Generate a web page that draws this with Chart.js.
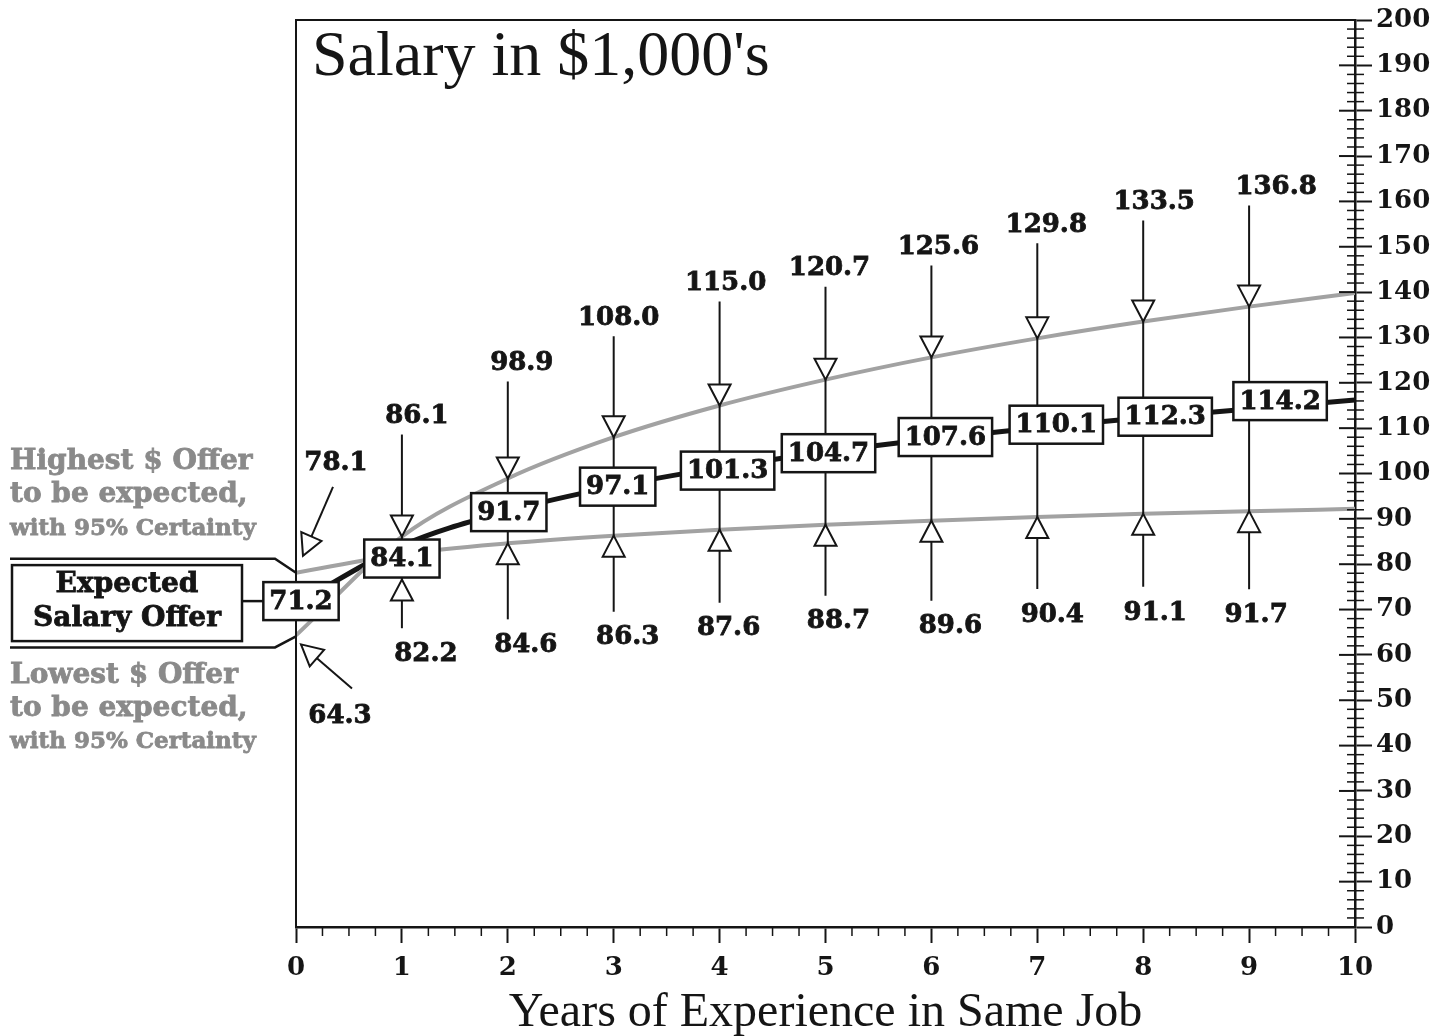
<!DOCTYPE html>
<html>
<head>
<meta charset="utf-8">
<script src="https://cdn.jsdelivr.net/npm/chart.js@4.4.0/dist/chart.umd.min.js"></script>
<style>
  body { margin: 0; background: #fff; }
  canvas { display: block; }
</style>
</head>
<body>
<canvas id="grafico-salario" width="1447" height="1036"></canvas>
<script>
// Anos de experiência no mesmo cargo
const years = [0, 1, 2, 3, 4, 5, 6, 7, 8, 9, 10];
// Salário (em $1.000) - oferta esperada e limites de 95%
const expected = [71.2, 84.1, 91.7, 97.1, 101.3, 104.7, 107.6, 110.1, 112.3, 114.2, 116.2];
const highest = [78.1, 86.1, 98.9, 108.0, 115.0, 120.7, 125.6, 129.8, 133.5, 136.8, 139.8];
const lowest = [64.3, 82.2, 84.6, 86.3, 87.6, 88.7, 89.6, 90.4, 91.1, 91.7, 92.2];
// só os anos 0..9 levam rótulo
const labeledYears = 10;

// no original as duas curvas cinzas se cruzam logo depois do ano 0
const steepCurve = [lowest[0], ...highest.slice(1)];
const flatCurve = [highest[0], ...lowest.slice(1)];

// deslocamentos (px) dos rótulos em relação ao ponto, como no original
const placement = {
  hiLabel: [[40, -110], [15, -120], [14, -115], [5, -119], [6, -122], [4, -111], [7, -110], [9, -113], [11, -119], [27, -119]],
  loLabel: [[44, 81], [24, 100], [18, 102], [14, 102], [9, 99], [13, 97], [19, 106], [15, 98], [12, 99], [7, 104]],
  box: [[5, -3], [0, 0], [1, 1], [4, 0], [8, 3], [3, 1], [14, -2], [19, -3], [22, -1], [31, -8]],
};

const BLACK = "#151515";
const GRAY_LINE = "#a2a2a2";
const GRAY_TEXT = "#8a8a8a";
const NUM_SIZE = 26;
const bold = (size) => `bold ${size}px "DejaVu Serif"`;

function pts(values) {
  return years.map((x, i) => ({ x: x, y: values[i] }));
}

function line(ctx, x1, y1, x2, y2) {
  ctx.beginPath();
  ctx.moveTo(x1, y1);
  ctx.lineTo(x2, y2);
  ctx.stroke();
}

// texto um pouco mais "pesado", como a fonte do original
function heavyText(ctx, text, x, y, color) {
  ctx.fillStyle = color;
  ctx.strokeStyle = color;
  ctx.lineWidth = 0.8;
  ctx.fillText(text, x, y);
  ctx.strokeText(text, x, y);
}

// triângulo aberto com a ponta em (tx, ty), apontando na direção (dx, dy)
function triangle(ctx, tx, ty, dx, dy) {
  const len = Math.hypot(dx, dy);
  dx /= len; dy /= len;
  const h = 21, w = 11;
  const bx = tx - dx * h, by = ty - dy * h;
  ctx.strokeStyle = BLACK;
  ctx.lineWidth = 2;
  ctx.beginPath();
  ctx.moveTo(tx, ty);
  ctx.lineTo(bx - dy * w, by + dx * w);
  ctx.lineTo(bx + dy * w, by - dx * w);
  ctx.closePath();
  ctx.fillStyle = "#fff";
  ctx.fill();
  ctx.stroke();
}

const BOX_H = 38;

function boxLabel(ctx, text, cx, cy) {
  ctx.font = bold(NUM_SIZE);
  const w = ctx.measureText(text).width + 12;
  ctx.fillStyle = "#fff";
  ctx.fillRect(cx - w / 2, cy - BOX_H / 2, w, BOX_H);
  ctx.lineWidth = 2.5;
  ctx.strokeStyle = BLACK;
  ctx.strokeRect(cx - w / 2, cy - BOX_H / 2, w, BOX_H);
  ctx.textAlign = "center";
  ctx.textBaseline = "middle";
  heavyText(ctx, text, cx, cy + 1, BLACK);
  return w;
}

const anotacoes = {
  id: "anotacoes",
  afterDatasetsDraw(chart) {
    const { ctx, chartArea: a, scales: { x, y } } = chart;
    ctx.save();
    ctx.strokeStyle = BLACK;
    ctx.lineCap = "butt";

    // moldura superior e esquerda
    ctx.lineWidth = 2;
    ctx.beginPath();
    ctx.moveTo(a.left, a.bottom);
    ctx.lineTo(a.left, a.top);
    ctx.lineTo(a.right + 1, a.top);
    ctx.stroke();

    // marcas do eixo y (parte interna das maiores e as menores)
    for (let v = 0; v <= 200; v += 2) {
      const py = y.getPixelForValue(v);
      if (v % 10 === 0) {
        ctx.lineWidth = 2;
        line(ctx, a.right - 16, py, a.right, py);
      } else {
        ctx.lineWidth = 1.5;
        line(ctx, a.right - 8, py, a.right + 9, py);
      }
    }
    // marcas menores do eixo x
    ctx.lineWidth = 1.5;
    for (let v = 0; v < 10; v += 0.25) {
      if (v % 1 === 0) continue;
      const px = x.getPixelForValue(v);
      line(ctx, px, a.bottom, px, a.bottom + 9);
    }

    ctx.textAlign = "center";
    ctx.textBaseline = "middle";

    // posição das caixas (a do ano 1 desce para não cobrir a seta de cima)
    const boxes = [];
    for (let i = 0; i < labeledYears; i++) {
      const [dx, dy] = placement.box[i];
      const yHi = y.getPixelForValue(highest[i]);
      let cy = y.getPixelForValue(expected[i]) + dy;
      if (i > 0) cy = Math.max(cy, yHi + 3 + BOX_H / 2);
      boxes.push({ cx: x.getPixelForValue(years[i]) + dx, cy: cy });
    }

    // setas verticais, anos 1..9
    for (let i = 1; i < labeledYears; i++) {
      const px = x.getPixelForValue(years[i]);
      const yHi = y.getPixelForValue(highest[i]);
      const yLo = y.getPixelForValue(lowest[i]);
      const [hx, hy] = placement.hiLabel[i];
      const [lx, ly] = placement.loLabel[i];
      const tipLo = Math.max(yLo, boxes[i].cy + BOX_H / 2 + 2);
      ctx.strokeStyle = BLACK;
      ctx.lineWidth = 2;
      line(ctx, px, yHi + hy + 18, px, yLo + ly - 26);
      triangle(ctx, px, yHi, 0, 1);
      triangle(ctx, px, tipLo, 0, -1);
      ctx.font = bold(NUM_SIZE);
      heavyText(ctx, highest[i].toFixed(1), px + hx, yHi + hy, BLACK);
      heavyText(ctx, lowest[i].toFixed(1), px + lx, yLo + ly, BLACK);
    }

    // setas diagonais no ano 0
    const x0 = x.getPixelForValue(years[0]);
    const hi0 = y.getPixelForValue(highest[0]);
    const lo0 = y.getPixelForValue(lowest[0]);
    ctx.strokeStyle = BLACK;
    ctx.lineWidth = 2;
    line(ctx, x0 + 37, hi0 - 86, x0 + 7, hi0 - 17);
    triangle(ctx, x0 + 7, hi0 - 17, -30, 69);
    ctx.lineWidth = 2;
    line(ctx, x0 + 56, lo0 + 53, x0 + 5, lo0 + 9);
    triangle(ctx, x0 + 5, lo0 + 9, -51, -44);
    ctx.font = bold(NUM_SIZE);
    heavyText(ctx, highest[0].toFixed(1), x0 + placement.hiLabel[0][0], hi0 + placement.hiLabel[0][1], BLACK);
    heavyText(ctx, lowest[0].toFixed(1), x0 + placement.loLabel[0][0], lo0 + placement.loLabel[0][1], BLACK);

    // caixas com o valor esperado
    let firstBoxW = 0;
    for (let i = 0; i < labeledYears; i++) {
      const w = boxLabel(ctx, expected[i].toFixed(1), boxes[i].cx, boxes[i].cy);
      if (i === 0) firstBoxW = w;
    }

    // legendas à esquerda
    const ex = boxes[0].cy;
    ctx.strokeStyle = BLACK;
    ctx.lineWidth = 2.5;
    ctx.fillStyle = "#fff";
    ctx.fillRect(12, ex - 36, 230, 76);
    ctx.strokeRect(12, ex - 36, 230, 76);
    ctx.lineWidth = 2.5;
    line(ctx, 242, ex, boxes[0].cx - firstBoxW / 2, ex);
    ctx.textAlign = "center";
    ctx.font = bold(28);
    heavyText(ctx, "Expected", 127, ex - 16, BLACK);
    heavyText(ctx, "Salary Offer", 127, ex + 18, BLACK);

    // conectores até o início das curvas
    ctx.strokeStyle = BLACK;
    ctx.lineWidth = 2.5;
    ctx.beginPath();
    ctx.moveTo(10, hi0 - 14);
    ctx.lineTo(a.left - 21, hi0 - 14);
    ctx.lineTo(a.left, hi0);
    ctx.stroke();
    ctx.beginPath();
    ctx.moveTo(10, lo0 + 12);
    ctx.lineTo(a.left - 21, lo0 + 12);
    ctx.lineTo(a.left, lo0 + 1);
    ctx.stroke();

    ctx.textAlign = "left";
    ctx.font = bold(28);
    heavyText(ctx, "Highest $ Offer", 10, hi0 - 111, GRAY_TEXT);
    heavyText(ctx, "to be expected,", 10, hi0 - 78, GRAY_TEXT);
    heavyText(ctx, "Lowest $ Offer", 10, lo0 + 40, GRAY_TEXT);
    heavyText(ctx, "to be expected,", 10, lo0 + 73, GRAY_TEXT);
    ctx.font = bold(23);
    heavyText(ctx, "with 95% Certainty", 10, hi0 - 44, GRAY_TEXT);
    heavyText(ctx, "with 95% Certainty", 10, lo0 + 107, GRAY_TEXT);

    // rótulo da unidade
    ctx.fillStyle = BLACK;
    ctx.font = '64px "Liberation Serif"';
    ctx.textBaseline = "alphabetic";
    ctx.fillText("Salary in $1,000's", a.left + 16, a.top + 55);

    ctx.restore();
  },
};

const tickFont = { family: "DejaVu Serif", weight: "bold", size: NUM_SIZE };

const config = {
  type: "line",
  data: {
    datasets: [
      {
        label: "Highest $ Offer",
        data: pts(steepCurve),
        borderColor: GRAY_LINE,
        borderWidth: 4,
        pointRadius: 0,
        cubicInterpolationMode: "monotone",
      },
      {
        label: "Lowest $ Offer",
        data: pts(flatCurve),
        borderColor: GRAY_LINE,
        borderWidth: 4,
        pointRadius: 0,
        cubicInterpolationMode: "monotone",
      },
      {
        label: "Expected Salary Offer",
        data: pts(expected),
        borderColor: BLACK,
        borderWidth: 5,
        pointRadius: 0,
        cubicInterpolationMode: "monotone",
      },
    ],
  },
  options: {
    responsive: false,
    animation: false,
    devicePixelRatio: 1,
    layout: { padding: { left: 296, top: 20, right: 0, bottom: 0 } },
    plugins: { legend: { display: false }, tooltip: { enabled: false } },
    scales: {
      x: {
        type: "linear",
        min: 0,
        max: 10,
        afterFit: (s) => { s.height = 109; },
        ticks: { stepSize: 1, font: tickFont, color: BLACK, padding: 10, maxRotation: 0 },
        grid: { drawOnChartArea: false, tickLength: 16, tickWidth: 2, tickColor: BLACK },
        border: { color: BLACK, width: 2.5 },
        title: {
          display: true,
          text: "Years of Experience in Same Job",
          font: { family: "Liberation Serif", size: 48 },
          color: BLACK,
          padding: { top: 0, bottom: -6 },
        },
      },
      y: {
        position: "right",
        min: 0,
        max: 200,
        afterFit: (s) => { s.width = 92; },
        ticks: { stepSize: 10, font: tickFont, color: BLACK, padding: 4 },
        grid: { drawOnChartArea: false, tickLength: 17, tickWidth: 2, tickColor: BLACK },
        border: { color: BLACK, width: 2.5 },
      },
    },
  },
  plugins: [anotacoes],
};

new Chart(document.getElementById("grafico-salario").getContext("2d"), config);
</script>
</body>
</html>
